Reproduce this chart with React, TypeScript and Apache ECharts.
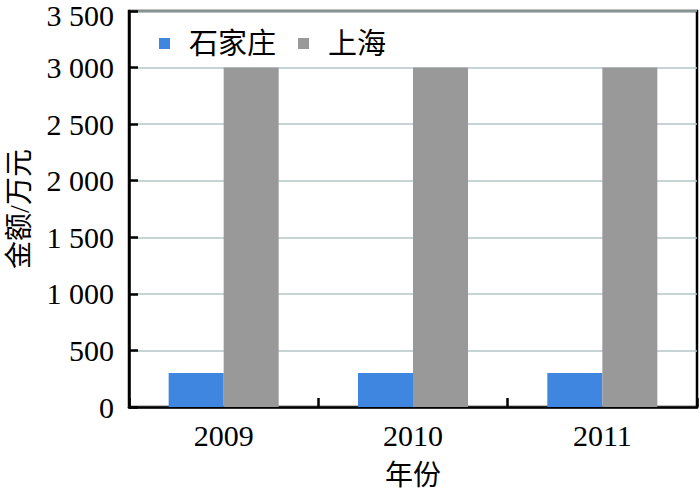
import React, { useEffect, useRef } from "react";
import * as echarts from "echarts";

const categories = ["2009", "2010", "2011"];
const shijiazhuang = [300, 300, 300];
const shanghai = [3000, 3000, 3000];
const seriesNames = ["石家庄", "上海"];

const FONT = "'Liberation Serif', 'Noto Sans CJK SC', serif";
const Y_MAX = 3500;

export default function App() {
  const ref = useRef<HTMLDivElement>(null);
  useEffect(() => {
    document.body.style.margin = "0";
    const chart = echarts.init(ref.current!, undefined, { renderer: "svg" });
    chart.setOption({
      animation: false,
      backgroundColor: "#ffffff",
      grid: {
        left: 129,
        right: 3,
        top: 11,
        bottom: 86,
        show: true,
        borderColor: "#000",
        borderWidth: 2.5,
        outerBoundsMode: "none",
        containLabel: false,
      },
      legend: {
        left: 154,
        top: 24,
        itemWidth: 11,
        itemHeight: 11,
        itemGap: 22,
        icon: "rect",
        textStyle: { fontFamily: FONT, fontSize: 29, color: "#000", padding: [0, 0, 0, 14] },
        data: seriesNames,
      },
      xAxis: {
        type: "category",
        data: categories,
        name: "年份",
        nameLocation: "middle",
        nameGap: 54,
        nameTextStyle: { fontFamily: FONT, fontSize: 28, color: "#000" },
        axisLine: { lineStyle: { color: "#000", width: 2.5 } },
        axisTick: { show: true, inside: true, length: 9, lineStyle: { color: "#000", width: 2.5 } },
        axisLabel: { fontFamily: FONT, fontSize: 30, color: "#000", margin: 13 },
      },
      yAxis: {
        type: "value",
        min: 0,
        max: Y_MAX,
        interval: 500,
        name: "金额/万元",
        nameLocation: "middle",
        nameRotate: 90,
        nameGap: 96,
        nameTextStyle: { fontFamily: FONT, fontSize: 28, color: "#000" },
        axisLine: { show: true, lineStyle: { color: "#000", width: 2.5 } },
        axisTick: { show: true, inside: true, length: 9, lineStyle: { color: "#000", width: 2.5 } },
        splitLine: { show: true, lineStyle: { color: "#b3c6c6", width: 1.5 } },
        axisLabel: {
          fontFamily: FONT,
          fontSize: 30,
          color: "#000",
          margin: 15,
          formatter: (v: number) => {
            const s = String(v).replace(/\B(?=(\d{3})+(?!\d))/g, " ");
            return v === Y_MAX ? `{top|${s}}` : s;
          },
          rich: {
            top: { fontFamily: FONT, fontSize: 30, color: "#000", padding: [8, 0, 0, 0] },
          },
        },
      },
      series: [
        {
          name: seriesNames[0],
          type: "bar",
          data: shijiazhuang,
          barWidth: 55,
          barGap: "0%",
          itemStyle: { color: "#3f86e0" },
        },
        {
          name: seriesNames[1],
          type: "bar",
          data: shanghai,
          barWidth: 55,
          barGap: "0%",
          itemStyle: { color: "#999999" },
        },
      ],
    });
    return () => chart.dispose();
  }, []);
  return <div ref={ref} style={{ width: 700, height: 493 }} />;
}
